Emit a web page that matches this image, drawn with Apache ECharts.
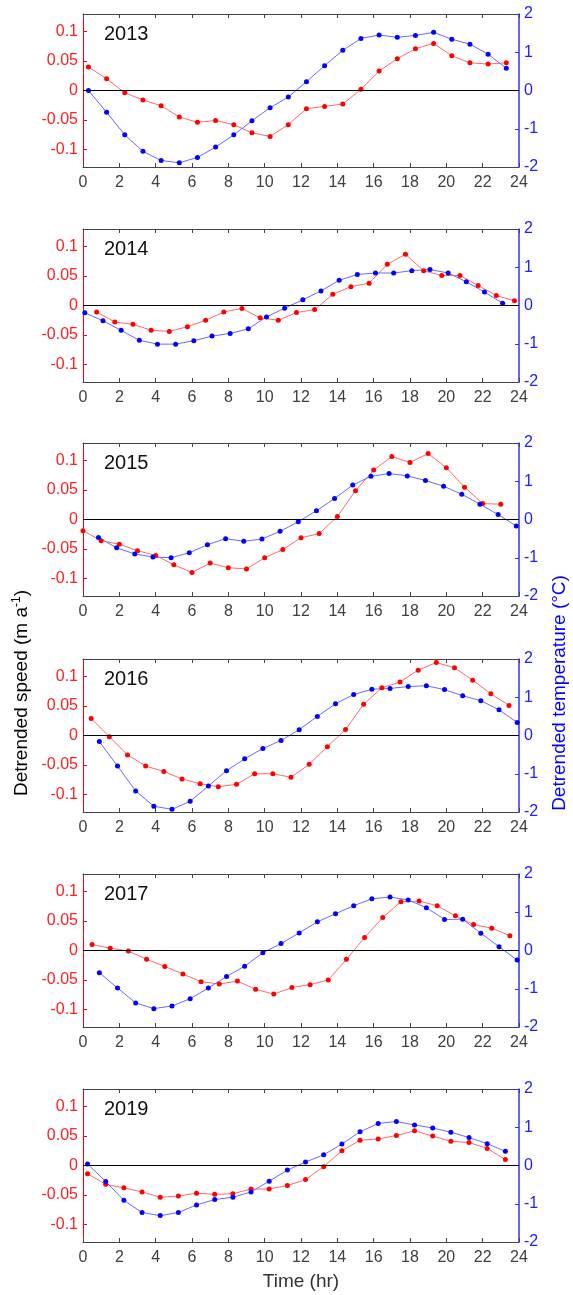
<!DOCTYPE html>
<html>
<head>
<meta charset="utf-8">
<script src="https://cdn.jsdelivr.net/npm/echarts@6/dist/echarts.min.js"></script>
<style>
  html, body { margin: 0; padding: 0; background: #fff; }
  #chart { width: 573px; height: 1295px; }
</style>
</head>
<body>
<div id="chart"></div>
<script>
const years = ["2013", "2014", "2015", "2016", "2017", "2019"];
const xTicks = [0, 2, 4, 6, 8, 10, 12, 14, 16, 18, 20, 22, 24];
const speedTicks = [-0.1, -0.05, 0, 0.05, 0.1];
const tempTicks = [-2, -1, 0, 1, 2];

// 2013
const speedHr2013 = [0.3,1.3,2.3,3.3,4.3,5.3,6.3,7.3,8.3,9.3,10.3,11.3,12.3,13.3,14.3,15.3,16.3,17.3,18.3,19.3,20.3,21.3,22.3,23.3];
const speed2013 = [0.040,0.020,-0.004,-0.016,-0.026,-0.045,-0.054,-0.051,-0.058,-0.072,-0.078,-0.058,-0.031,-0.027,-0.023,0.002,0.033,0.054,0.071,0.080,0.059,0.047,0.045,0.047];
const tempHr2013 = [0.3,1.3,2.3,3.3,4.3,5.3,6.3,7.3,8.3,9.3,10.3,11.3,12.3,13.3,14.3,15.3,16.3,17.3,18.3,19.3,20.3,21.3,22.3,23.3];
const temp2013 = [0.0,-0.57,-1.16,-1.59,-1.83,-1.89,-1.75,-1.48,-1.16,-0.79,-0.45,-0.17,0.23,0.65,1.05,1.36,1.45,1.39,1.44,1.52,1.34,1.21,0.95,0.58];

// 2014
const speedHr2014 = [0.75,1.75,2.75,3.75,4.75,5.75,6.75,7.75,8.75,9.75,10.75,11.75,12.75,13.75,14.75,15.75,16.75,17.75,18.75,19.75,20.75,21.75,22.75,23.75];
const speed2014 = [-0.011,-0.028,-0.032,-0.042,-0.044,-0.036,-0.025,-0.011,-0.005,-0.021,-0.025,-0.012,-0.007,0.019,0.032,0.038,0.070,0.087,0.059,0.051,0.051,0.034,0.017,0.008];
const tempHr2014 = [0.1,1.1,2.1,3.1,4.1,5.1,6.1,7.1,8.1,9.1,10.1,11.1,12.1,13.1,14.1,15.1,16.1,17.1,18.1,19.1,20.1,21.1,22.1,23.1];
const temp2014 = [-0.19,-0.40,-0.65,-0.91,-1.01,-1.01,-0.92,-0.80,-0.73,-0.61,-0.30,-0.07,0.15,0.38,0.66,0.81,0.85,0.85,0.91,0.94,0.85,0.62,0.35,0.06];

// 2015
const speedHr2015 = [0,1,2,3,4,5,6,7,8,9,10,11,12,13,14,15,16,17,18,19,20,21,22,23];
const speed2015 = [-0.019,-0.036,-0.042,-0.053,-0.061,-0.077,-0.090,-0.074,-0.082,-0.084,-0.065,-0.051,-0.031,-0.024,0.005,0.049,0.084,0.107,0.097,0.112,0.088,0.055,0.027,0.026];
const tempHr2015 = [0.85,1.85,2.85,3.85,4.85,5.85,6.85,7.85,8.85,9.85,10.85,11.85,12.85,13.85,14.85,15.85,16.85,17.85,18.85,19.85,20.85,21.85,22.85,23.85];
const temp2015 = [-0.47,-0.74,-0.90,-0.98,-1.00,-0.87,-0.66,-0.50,-0.57,-0.51,-0.31,-0.06,0.23,0.55,0.90,1.13,1.20,1.14,1.02,0.87,0.66,0.40,0.13,-0.17];

// 2016
const speedHr2016 = [0.45,1.45,2.45,3.45,4.45,5.45,6.45,7.45,8.45,9.45,10.45,11.45,12.45,13.45,14.45,15.45,16.45,17.45,18.45,19.45,20.45,21.45,22.45,23.45];
const speed2016 = [0.029,-0.002,-0.033,-0.052,-0.061,-0.074,-0.082,-0.087,-0.083,-0.065,-0.065,-0.071,-0.049,-0.019,0.010,0.053,0.081,0.091,0.111,0.124,0.115,0.094,0.071,0.051];
const tempHr2016 = [0.9,1.9,2.9,3.9,4.9,5.9,6.9,7.9,8.9,9.9,10.9,11.9,12.9,13.9,14.9,15.9,16.9,17.9,18.9,19.9,20.9,21.9,22.9,23.9];
const temp2016 = [-0.16,-0.80,-1.45,-1.85,-1.93,-1.72,-1.32,-0.92,-0.61,-0.34,-0.13,0.15,0.50,0.83,1.07,1.21,1.23,1.28,1.30,1.20,1.04,0.91,0.67,0.34];

// 2017
const speedHr2017 = [0.5,1.5,2.5,3.5,4.5,5.5,6.5,7.5,8.5,9.5,10.5,11.5,12.5,13.5,14.5,15.5,16.5,17.5,18.5,19.5,20.5,21.5,22.5,23.5];
const speed2017 = [0.010,0.004,-0.001,-0.015,-0.027,-0.040,-0.053,-0.057,-0.052,-0.066,-0.074,-0.063,-0.058,-0.050,-0.015,0.022,0.056,0.083,0.084,0.076,0.059,0.044,0.038,0.025];
const tempHr2017 = [0.9,1.9,2.9,3.9,4.9,5.9,6.9,7.9,8.9,9.9,10.9,11.9,12.9,13.9,14.9,15.9,16.9,17.9,18.9,19.9,20.9,21.9,22.9,23.9];
const temp2017 = [-0.58,-0.98,-1.37,-1.52,-1.45,-1.26,-0.98,-0.68,-0.41,-0.06,0.18,0.46,0.75,0.96,1.17,1.35,1.40,1.32,1.12,0.81,0.82,0.45,0.10,-0.25];

// 2019
const speedHr2019 = [0.25,1.25,2.25,3.25,4.25,5.25,6.25,7.25,8.25,9.25,10.25,11.25,12.25,13.25,14.25,15.25,16.25,17.25,18.25,19.25,20.25,21.25,22.25,23.25];
const speed2019 = [-0.014,-0.032,-0.038,-0.045,-0.054,-0.052,-0.047,-0.049,-0.048,-0.040,-0.040,-0.034,-0.024,-0.002,0.025,0.043,0.045,0.051,0.059,0.050,0.041,0.039,0.029,0.010];
const tempHr2019 = [0.25,1.25,2.25,3.25,4.25,5.25,6.25,7.25,8.25,9.25,10.25,11.25,12.25,13.25,14.25,15.25,16.25,17.25,18.25,19.25,20.25,21.25,22.25,23.25];
const temp2019 = [0.04,-0.42,-0.91,-1.23,-1.31,-1.23,-1.03,-0.89,-0.83,-0.69,-0.41,-0.12,0.09,0.28,0.56,0.88,1.10,1.15,1.06,0.98,0.87,0.73,0.57,0.37];

const speedHrs = [speedHr2013, speedHr2014, speedHr2015, speedHr2016, speedHr2017, speedHr2019];
const speeds = [speed2013, speed2014, speed2015, speed2016, speed2017, speed2019];
const tempHrs = [tempHr2013, tempHr2014, tempHr2015, tempHr2016, tempHr2017, tempHr2019];
const temps = [temp2013, temp2014, temp2015, temp2016, temp2017, temp2019];

const font = "Liberation Sans";
const red = "#ff0000";
const blue = "#0000ff";
const boxColor = "#444";
const tops = [14, 229, 443, 659, 874, 1089];

var myChart = echarts.init(document.getElementById("chart"));

let grid = [], xAxis = [], yAxis = [], series = [], title = [];
years.forEach((yr, i) => {
  grid.push({ left: 83, width: 436, top: tops[i], height: 153 });
  title.push({
    text: yr, left: 104, top: tops[i] + 10, padding: 0,
    textStyle: { fontFamily: font, fontSize: 20, fontWeight: "normal", color: "#111" }
  });
  // bottom axis with labels
  xAxis.push({
    gridIndex: i, type: "value", min: 0, max: 24, interval: 2, position: "bottom",
    axisLine: { onZero: false, lineStyle: { color: boxColor, width: 1 } },
    axisTick: { inside: true, length: 4, lineStyle: { color: boxColor } },
    axisLabel: { color: "#404040", fontFamily: font, fontSize: 16, margin: 8 },
    splitLine: { show: false }
  });
  // top border
  xAxis.push({
    gridIndex: i, type: "value", min: 0, max: 24, interval: 2, position: "top",
    axisLine: { onZero: false, lineStyle: { color: boxColor, width: 1 } },
    axisTick: { inside: true, length: 4, lineStyle: { color: boxColor } },
    axisLabel: { show: false },
    splitLine: { show: false }
  });
  yAxis.push({
    gridIndex: i, type: "value", min: -0.13, max: 0.13, position: "left",
    axisLine: { show: true, onZero: false, lineStyle: { color: red, width: 1 } },
    axisTick: { show: true, inside: true, length: 4, customValues: speedTicks, lineStyle: { color: red } },
    axisLabel: { customValues: speedTicks, color: "#ff2020", fontFamily: font, fontSize: 16, margin: 5 },
    splitLine: { show: false }
  });
  yAxis.push({
    gridIndex: i, type: "value", min: -2, max: 2, interval: 1, position: "right",
    axisLine: { show: true, onZero: false, lineStyle: { color: "#3030ff", width: 1.5 } },
    axisTick: { show: true, inside: true, length: 4, lineStyle: { color: "#3030ff" } },
    axisLabel: { color: "#2020ff", fontFamily: font, fontSize: 16, margin: 5 },
    splitLine: { show: false }
  });
  series.push({
    type: "line", xAxisIndex: 2 * i, yAxisIndex: 2 * i,
    data: speedHrs[i].map((h, k) => [h, speeds[i][k]]),
    symbol: "circle", symbolSize: 5, showAllSymbol: true,
    itemStyle: { color: red },
    lineStyle: { color: "#ff6a6a", width: 1 },
    markLine: {
      silent: true, symbol: "none", label: { show: false },
      lineStyle: { color: "#000", width: 1, type: "solid" },
      data: [{ yAxis: 0 }]
    },
    animation: false
  });
  series.push({
    type: "line", xAxisIndex: 2 * i, yAxisIndex: 2 * i + 1,
    data: tempHrs[i].map((h, k) => [h, temps[i][k]]),
    symbol: "circle", symbolSize: 5, showAllSymbol: true,
    itemStyle: { color: blue },
    lineStyle: { color: "#6a6aff", width: 1 },
    animation: false
  });
});

let option = {
  backgroundColor: "#fff",
  animation: false,
  title: title,
  grid: grid,
  xAxis: xAxis,
  yAxis: yAxis,
  series: series,
  graphic: [
    {
      type: "text", x: 22, y: 693, rotation: Math.PI / 2,
      style: {
        text: "{n|Detrended speed (m a}{s|-1}{n|)}",
        align: "center", verticalAlign: "middle",
        rich: {
          n: { fontFamily: font, fontSize: 19, color: red, lineHeight: 22 },
          s: { fontFamily: font, fontSize: 12, color: red, lineHeight: 22, verticalAlign: "top" }
        }
      }
    },
    {
      type: "text", x: 560, y: 693, rotation: Math.PI / 2,
      style: {
        text: "Detrended temperature (°C)",
        align: "center", verticalAlign: "middle",
        font: "19px " + font, fill: blue
      }
    },
    {
      type: "text", x: 301, y: 1282,
      style: {
        text: "Time (hr)", align: "center", verticalAlign: "middle",
        font: "19px " + font, fill: "#333"
      }
    }
  ]
};
myChart.setOption(option);
</script>
</body>
</html>
